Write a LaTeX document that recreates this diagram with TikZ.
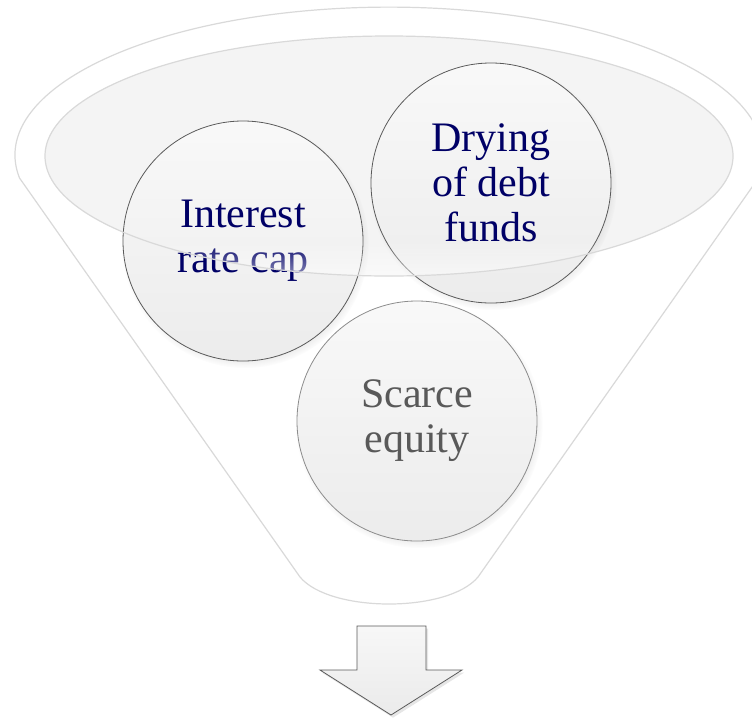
\documentclass[tikz,border=0pt]{standalone}
\usepackage{fontspec}
\setmainfont{Liberation Serif}
\usetikzlibrary{shadows,fadings}
\definecolor{navytxt}{HTML}{000066}
\definecolor{graytxt}{HTML}{595959}
\definecolor{rimline}{HTML}{D9D9D9}
\definecolor{ellfill}{HTML}{F4F4F4}
\definecolor{ballline}{HTML}{5A5A5A}
\definecolor{balllight}{HTML}{8C8C8C}
\tikzfading[name=rimfade, top color=transparent!100, bottom color=transparent!0]
\tikzset{
  ball/.style={circle, minimum size=180pt, inner sep=0pt, draw=ballline, line width=0.6pt,
    top color=white!97.5!black, bottom color=white!92.5!black,
    circular drop shadow={shadow scale=1.03, shadow xshift=1.5pt, shadow yshift=-2.5pt, opacity=0.3},
    align=center, font=\fontsize{31.5}{33.75}\selectfont},
  funnelline/.style={draw=rimline, line width=0.9pt},
}
\begin{document}
\begin{tikzpicture}[x=0.75pt, y=-0.75pt]
\useasboundingbox (0,0) rectangle (752,718);
% outer funnel
\draw[funnelline, fill=white]
  (19.5,178) arc[start angle=171.1, end angle=368.9, x radius=374, y radius=148]
  -- (478,577)
  .. controls (448,613) and (330,613) .. (300,577)
  -- cycle;
% inner ellipse fill
\fill[ellfill] (389,156) ellipse[x radius=344, y radius=120];
% circles
\node[ball] (rate) at (243,241) {\color{navytxt}Interest\\\color{navytxt}rate cap};
\node[ball] (debt) at (491,183) {\color{navytxt}Drying\\\color{navytxt}of debt\\\color{navytxt}funds};
\node[ball, draw=balllight] (equity) at (417,421) {\color{graytxt}Scarce\\\color{graytxt}equity};
% glassy rim overlay of the ellipse
\begin{scope}
  \clip (389,156) ellipse[x radius=344, y radius=120];
  \fill[white, fill opacity=0.6, path fading=rimfade] (40,240) rectangle (740,280);
\end{scope}
\draw[rimline, line width=0.9pt] (389,156) ellipse[x radius=344, y radius=120];
% down arrow
\draw[draw=ballline, line width=0.6pt, top color=white!97!black, bottom color=white!92!black,
      drop shadow={shadow xshift=1.5pt, shadow yshift=-2pt, opacity=0.2}]
  (357,626) -- (426,626) -- (426,670) -- (462,670) -- (391,715) -- (320,670) -- (357,670) -- cycle;
\end{tikzpicture}
\end{document}
